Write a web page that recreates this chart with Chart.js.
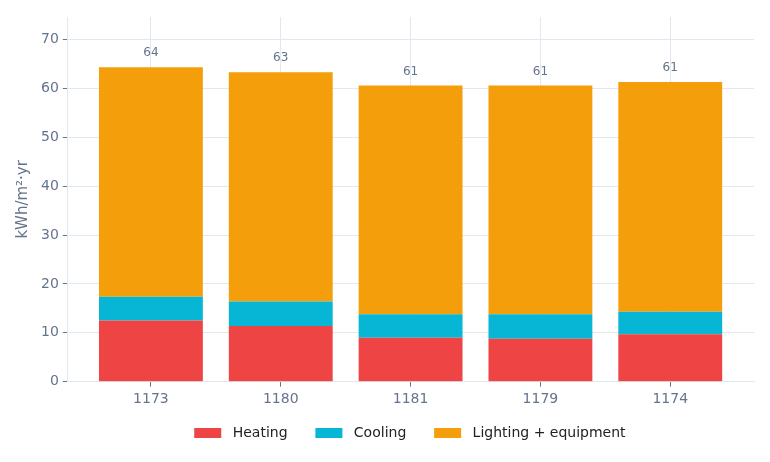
<!DOCTYPE html>
<html><head><meta charset="utf-8">
<script src="https://cdn.jsdelivr.net/npm/chart.js@4/dist/chart.umd.min.js"></script>
<style>html,body{margin:0;padding:0;background:#fff}#wrap{width:770px;height:462px}</style>
</head><body><div id="wrap"><canvas id="c"></canvas></div>
<script>
const categories = ['1173', '1180', '1181', '1179', '1174'];
const heating = [12.5, 11.4, 9.0, 8.8, 9.7];
const cooling = [4.9, 5.0, 4.8, 5.0, 4.6];
const lighting = [46.9, 46.9, 46.8, 46.8, 47.0];
const seriesNames = ['Heating', 'Cooling', 'Lighting + equipment'];
const colors = ['#ef4444', '#06b6d4', '#f59e0b'];

const FONT = "'DejaVu Sans', sans-serif";
const GRID = '#e2e8f0';
const TICK = '#64748b';

const totalLabels = {
  id: 'totalLabels',
  afterDatasetsDraw(chart) {
    const ctx = chart.ctx;
    const y = chart.scales.y;
    const x = chart.scales.x;
    ctx.save();
    ctx.font = '12px ' + FONT;
    ctx.fillStyle = TICK;
    ctx.textAlign = 'center';
    ctx.textBaseline = 'middle';
    categories.forEach((c, i) => {
      const t = heating[i] + cooling[i] + lighting[i];
      ctx.fillText(String(Math.round(t)), x.getPixelForValue(i), y.getPixelForValue(t) - 14);
    });
    ctx.restore();
  }
};

// center the legend over the plot area
const legendCenter = {
  id: 'legendCenter',
  afterLayout(chart) {
    const lg = chart.legend, ca = chart.chartArea;
    if (lg && ca) { lg.left = ca.left - 1; lg.right = ca.right - 1; lg.width = ca.right - ca.left; }
  }
};

new Chart(document.getElementById('c'), {
  type: 'bar',
  data: {
    datasets: [heating, cooling, lighting].map((d, i) => ({
      label: seriesNames[i],
      data: d.map((v, j) => ({ x: j, y: v })),
      backgroundColor: colors[i],
      borderWidth: 0,
      barPercentage: 0.8,
      categoryPercentage: 1.0
    }))
  },
  options: {
    responsive: true,
    maintainAspectRatio: false,
    animation: false,
    layout: { padding: { top: 17, right: 16, left: 12, bottom: 12 } },
    plugins: {
      legend: {
        position: 'bottom',
        labels: {
          font: { family: FONT, size: 14 },
          color: '#222',
          boxWidth: 27,
          boxHeight: 10,
          padding: 14.5,
          generateLabels(chart) {
            const items = Chart.defaults.plugins.legend.labels.generateLabels(chart);
            items.forEach((it, i) => { it.text = ' ' + it.text + (i < items.length - 1 ? '   ' : ''); });
            return items;
          }
        }
      },
      tooltip: { enabled: false }
    },
    scales: {
      x: {
        type: 'linear',
        stacked: true,
        min: -0.64,
        max: 4.645,
        offset: false,
        grid: { color: GRID, offset: false, tickLength: 5, tickColor: '#64748b' },
        border: { color: GRID },
        ticks: {
          stepSize: 1,
          includeBounds: false,
          font: { family: FONT, size: 14 }, color: TICK, padding: 4,
          maxRotation: 0,
          callback: (v) => (Number.isInteger(v) && categories[v] !== undefined) ? categories[v] : ''
        }
      },
      y: {
        stacked: true,
        min: 0,
        max: 74.6,
        grid: { color: GRID, tickLength: 5, tickColor: '#64748b' },
        border: { color: GRID },
        ticks: { stepSize: 10, includeBounds: false, font: { family: FONT, size: 14 }, color: TICK, padding: 4 },
        title: { display: true, text: 'kWh/m²·yr', font: { family: FONT, size: 15 }, color: TICK, padding: { top: 2, bottom: 5 } }
      }
    }
  },
  plugins: [totalLabels, legendCenter]
});
</script></body></html>
